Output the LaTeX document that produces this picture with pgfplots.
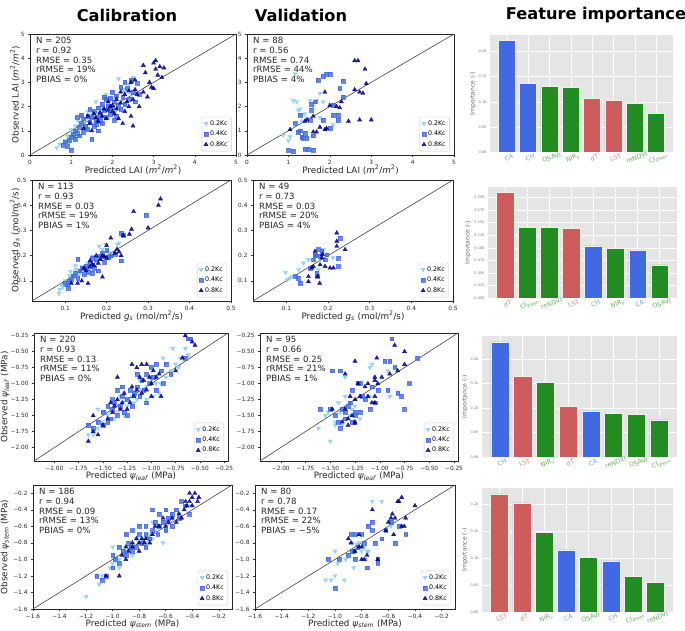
\documentclass[border=0pt]{standalone}
\usepackage{fontspec}
\setmainfont{DejaVu Sans}
\usepackage{pgfplots}
\pgfplotsset{compat=1.18}

\definecolor{cLight}{HTML}{87CEFA}
\definecolor{cMid}{HTML}{4169E1}
\definecolor{cDark}{HTML}{00008B}
\definecolor{bBlue}{HTML}{4169E1}
\definecolor{bGreen}{HTML}{228B22}
\definecolor{bRed}{HTML}{CD5C5C}
\colorlet{lBlue}{bBlue!70!white}
\colorlet{lGreen}{bGreen!70!white}
\colorlet{lRed}{bRed!75!white}
\newcommand{\B}[1]{\textcolor{lBlue}{#1}}
\newcommand{\G}[1]{\textcolor{lGreen}{#1}}
\newcommand{\R}[1]{\textcolor{lRed}{#1}}

\pgfplotsset{
  scat/.style={scale only axis, anchor=north west,
    tick align=outside, xtick pos=bottom, ytick pos=left,
    major tick length=2pt, tick style={black!80, line width=0.4pt},
    axis line style={black!85, line width=0.5pt},
    ticklabel style={font=\fontsize{5.8}{6.5}\selectfont, text=black!85},
    /pgf/number format/assume math mode=true,
    label style={font=\fontsize{8.8}{10}\selectfont, text=black!85},
    xlabel style={anchor=center}, ylabel style={anchor=center},
    legend style={at={(rel axis cs:0.98,0.03)}, anchor=south east,
      draw=black!20, rounded corners=1.5pt, fill=white, fill opacity=0.8, text opacity=1,
      font=\fontsize{6.3}{7}\selectfont, inner xsep=2pt, inner ysep=1.5pt, row sep=0.3pt},
    legend cell align=left},
  kA/.style={only marks, mark=triangle*, mark size=2.4pt,
    mark options={rotate=180, draw=cLight, fill=cLight, opacity=0.85}},
  kB/.style={only marks, mark=square*, mark size=1.9pt,
    mark options={draw=cMid, fill=cMid, opacity=0.8}},
  kC/.style={only marks, mark=triangle*, mark size=2.4pt,
    mark options={draw=cDark, fill=cDark, opacity=0.85}},
  oneone/.style={black!75, line width=0.6pt, forget plot},
  fimp/.style={scale only axis, anchor=north west,
    xmin=-0.79, xmax=7.79, ymin=0, xtick={0,...,7}, bar width=0.8,
    axis background/.style={fill=black!10},
    grid=major, major grid style={white, line width=0.5pt},
    axis line style={draw=none}, major tick length=0pt,
    yticklabel style={font=\fontsize{3.5}{4}\selectfont, text=black!55},
    xticklabel style={font=\fontsize{6.3}{7}\selectfont, rotate=20, anchor=north},
    ylabel={Importance (-)},
    ylabel style={font=\fontsize{6}{7}\selectfont, text=black!60, anchor=center}},
  fbar/.style={ybar, bar shift=0pt, draw=black!6, line width=0.5pt},
}
\newcommand{\stats}[1]{\node[anchor=north west, align=left, inner sep=0pt,
  font=\fontsize{8.6}{9.8}\selectfont, text=black!85] at (rel axis cs:0,1) [xshift=6pt, yshift=-3pt] {#1};}

\begin{document}
\begin{tikzpicture}[x=1pt,y=1pt]
\useasboundingbox (0,0) rectangle (685,631);

\node[font=\fontsize{16.2}{18}\selectfont\bfseries] at (127,616) {Calibration};
\node[font=\fontsize{16.2}{18}\selectfont\bfseries] at (301,616) {Validation};
\node[font=\fontsize{16.2}{18}\selectfont\bfseries] at (596,616) {Feature importance};

% ---------------- Row 1: LAI ----------------
\begin{axis}[scat, at={(30pt,597pt)}, width=206pt, height=121pt,
  xmin=0, xmax=5, ymin=0, ymax=5, xtick={0,...,5}, ytick={0,...,5},
  xlabel={Predicted LAI (\textit{m}\textsuperscript{2}/\textit{m}\textsuperscript{2})},
  ylabel={Observed LAI (\textit{m}\textsuperscript{2}/\textit{m}\textsuperscript{2})},
  xlabel style={at={([yshift=-15pt]axis description cs:0.5,0)}},
  ylabel style={at={([xshift=-15pt]axis description cs:0,0.5)}}]
\addplot[kA] coordinates {(0.65,0.3) (0.72,0.45) (0.85,0.6) (0.9,0.8) (0.95,0.7) (1.0,1.05) (1.05,0.9) (1.1,1.2) (1.15,1.0) (1.2,1.35) (1.25,1.6) (1.3,1.25) (1.35,1.5) (1.4,1.8) (1.45,1.4) (1.5,1.7) (1.55,1.3) (1.6,2.2) (1.62,1.55) (1.7,1.85) (1.75,2.0) (1.8,1.6) (1.85,2.5) (1.9,2.1) (1.95,1.9) (2.0,2.3) (2.05,1.75) (2.1,2.4) (2.15,3.15) (2.2,2.2) (2.3,2.6) (2.4,2.9) (2.5,3.2) (2.45,2.5) (1.15,1.45) (1.3,1.1) (1.65,1.75) (2.25,2.7) (0.95,0.5) (1.08,0.75)};
\addplot[kB] coordinates {(0.85,0.55) (0.9,0.35) (0.95,0.6) (1.0,0.75) (1.0,0.2) (1.05,0.85) (1.1,1.0) (1.1,0.65) (1.15,0.9) (1.2,1.15) (1.2,0.8) (1.25,1.3) (1.3,1.5) (1.3,0.95) (1.35,1.2) (1.4,1.6) (1.4,1.05) (1.45,1.35) (1.5,1.55) (1.5,0.65) (1.55,1.8) (1.55,1.2) (1.6,1.45) (1.65,1.95) (1.65,1.0) (1.7,1.6) (1.75,1.3) (1.75,2.1) (1.8,1.85) (1.85,1.55) (1.85,2.3) (1.9,2.0) (1.95,1.7) (2.0,2.6) (2.0,1.95) (2.05,2.2) (2.1,1.6) (2.1,2.45) (2.15,2.0) (2.2,2.8) (2.2,1.9) (2.25,2.4) (2.3,2.1) (2.35,2.75) (2.4,2.3) (2.45,3.1) (2.5,2.6) (2.55,2.2) (2.6,2.95) (2.65,2.5) (1.25,1.65) (1.45,1.9) (1.6,1.25) (1.8,2.4) (1.95,2.35) (2.3,3.0) (1.15,1.55) (0.8,0.4) (1.7,1.4) (2.05,1.45)};
\addplot[kC] coordinates {(1.3,1.1) (1.45,1.3) (1.5,1.0) (1.6,1.55) (1.65,1.4) (1.7,1.75) (1.75,1.6) (1.8,1.9) (1.85,1.5) (1.9,1.85) (1.95,2.0) (2.0,1.8) (2.0,2.05) (2.05,1.7) (2.1,2.3) (2.1,1.9) (2.15,1.5) (2.2,2.15) (2.25,1.3) (2.3,2.5) (2.3,1.8) (2.35,2.2) (2.4,2.65) (2.45,1.6) (2.5,2.3) (2.5,1.2) (2.55,2.7) (2.6,2.5) (2.65,2.0) (2.75,2.6) (2.75,3.7) (2.8,3.4) (2.85,2.4) (2.95,2.8) (3.0,3.8) (3.0,2.75) (3.05,3.9) (3.05,3.55) (3.1,3.3) (3.15,3.65) (3.2,3.2) (3.25,3.6) (2.9,3.0) (2.45,3.0) (2.55,3.1) (1.55,1.7) (1.9,2.2) (2.2,2.6) (1.4,1.6) (2.4,2.0)};
\addplot[oneone] coordinates {(0,0) (5,5)};
\legend{0.2Kc,0.4Kc,0.8Kc}
\stats{N = 205\\r = 0.92\\RMSE = 0.35\\rRMSE = 19\%\\PBIAS = 0\%}
\end{axis}

\begin{axis}[scat, at={(247pt,597pt)}, width=207pt, height=121pt,
  xmin=0, xmax=5, ymin=0, ymax=5, xtick={0,...,5}, ytick={0,...,5},
  xlabel={Predicted LAI (\textit{m}\textsuperscript{2}/\textit{m}\textsuperscript{2})},
  xlabel style={at={([yshift=-15pt]axis description cs:0.5,0)}}]
\addplot[kA] coordinates {(0.87,0.82) (1.0,0.6) (1.04,0.75) (1.12,2.25) (1.2,2.2) (1.24,1.85) (1.28,1.9) (1.32,1.65) (1.4,1.7) (1.52,2.25) (1.6,2.0) (1.68,2.25) (1.76,2.55) (1.84,2.2) (1.92,1.05) (2.08,1.25) (1.32,1.4) (1.16,3.35) (1.44,1.5) (1.76,1.55)};
\addplot[kB] coordinates {(1.0,0.2) (1.12,0.15) (1.16,1.3) (1.24,0.95) (1.28,1.0) (1.32,0.75) (1.36,0.7) (1.4,0.9) (1.44,0.7) (1.4,0.25) (1.48,0.25) (1.56,1.85) (1.56,2.1) (1.64,2.2) (1.6,0.8) (1.6,0.2) (1.72,3.1) (1.84,3.25) (1.92,3.35) (2.0,3.35) (2.0,1.1) (1.84,1.45) (2.08,2.05) (2.08,1.65) (2.2,1.45) (2.24,2.75) (2.32,3.05) (2.2,1.65) (1.28,1.65) (2.32,2.4) (1.52,1.45)};
\addplot[kC] coordinates {(1.04,1.05) (1.4,1.4) (1.6,0.95) (1.68,0.95) (1.76,1.15) (1.88,1.05) (1.92,1.1) (1.88,2.6) (2.0,2.05) (2.16,2.0) (2.28,2.2) (2.24,1.95) (2.45,1.4) (2.6,3.9) (2.68,3.9) (2.72,1.45) (2.6,2.7) (2.72,2.6) (2.85,3.55) (2.88,2.95) (2.8,2.55) (3.0,1.45) (1.6,1.6) (1.45,1.45)};
\addplot[oneone] coordinates {(0,0) (5,5)};
\legend{0.2Kc,0.4Kc,0.8Kc}
\stats{N = 88\\r = 0.56\\RMSE = 0.74\\rRMSE = 44\%\\PBIAS = 4\%}
\end{axis}

\begin{axis}[fimp, at={(490pt,596pt)}, width=183pt, height=117pt, ymax=0.233,
  ytick={0,0.05,0.1,0.15,0.2}, yticklabels={0.00,0.05,0.10,0.15,0.20},
  xticklabels={\B{CA},\B{CH},\G{OSAVI},\G{NIR\textsubscript{v}},\R{dT},\R{LST},\G{reNDVI},\G{CI\textsubscript{green}}},
  ylabel style={at={([xshift=-17pt]axis description cs:0,0.5)}}]
\addplot[fbar, fill=bBlue] coordinates {(0,0.222) (1,0.137)};
\addplot[fbar, fill=bGreen] coordinates {(2,0.130) (3,0.129) (6,0.098) (7,0.077)};
\addplot[fbar, fill=bRed] coordinates {(4,0.107) (5,0.103)};
\end{axis}

% ---------------- Row 2: gs ----------------
\begin{axis}[scat, at={(32pt,451pt)}, width=199pt, height=121pt,
  xmin=0.02, xmax=0.5, ymin=0.02, ymax=0.5, xtick={0.1,0.2,0.3,0.4,0.5}, ytick={0.1,0.2,0.3,0.4,0.5},
  xticklabel style={/pgf/number format/.cd, fixed, fixed zerofill, precision=1},
  yticklabel style={/pgf/number format/.cd, fixed, fixed zerofill, precision=1},
  xlabel={Predicted \textit{g}\textsubscript{\textit{s}} (mol/m\textsuperscript{2}/s)},
  ylabel={Observed \textit{g}\textsubscript{\textit{s}} (mol/m\textsuperscript{2}/s)},
  xlabel style={at={([yshift=-15pt]axis description cs:0.5,0)}},
  ylabel style={at={([xshift=-17pt]axis description cs:0,0.5)}}]
\addplot[kA] coordinates {(0.085,0.05) (0.087,0.065) (0.09,0.085) (0.095,0.075) (0.10,0.10) (0.11,0.12) (0.113,0.137) (0.12,0.11) (0.126,0.145) (0.134,0.125) (0.142,0.157) (0.15,0.145) (0.154,0.17) (0.16,0.15) (0.166,0.197) (0.174,0.177) (0.182,0.237) (0.19,0.19) (0.19,0.224) (0.198,0.245) (0.205,0.21) (0.208,0.19) (0.215,0.2) (0.226,0.244) (0.23,0.25) (0.125,0.16)};
\addplot[kB] coordinates {(0.10,0.09) (0.105,0.085) (0.107,0.07) (0.11,0.10) (0.115,0.105) (0.12,0.12) (0.125,0.13) (0.13,0.11) (0.135,0.14) (0.14,0.15) (0.145,0.125) (0.15,0.16) (0.155,0.135) (0.16,0.17) (0.165,0.19) (0.17,0.15) (0.175,0.185) (0.18,0.14) (0.185,0.2) (0.19,0.21) (0.195,0.175) (0.20,0.22) (0.205,0.195) (0.21,0.2) (0.13,0.185) (0.165,0.13) (0.235,0.29) (0.24,0.28) (0.235,0.18) (0.295,0.36) (0.22,0.205) (0.15,0.15)};
\addplot[kC] coordinates {(0.115,0.09) (0.13,0.09) (0.14,0.1) (0.15,0.14) (0.155,0.09) (0.16,0.155) (0.165,0.165) (0.17,0.16) (0.175,0.2) (0.18,0.17) (0.185,0.185) (0.19,0.2) (0.19,0.115) (0.195,0.195) (0.20,0.19) (0.21,0.27) (0.22,0.21) (0.225,0.225) (0.23,0.215) (0.235,0.2) (0.24,0.28) (0.255,0.285) (0.26,0.305) (0.265,0.375) (0.30,0.31) (0.325,0.4) (0.33,0.425) (0.16,0.18) (0.145,0.15) (0.2,0.24)};
\addplot[oneone] coordinates {(0.02,0.02) (0.5,0.5)};
\legend{0.2Kc,0.4Kc,0.8Kc}
\stats{N = 113\\r = 0.93\\RMSE = 0.03\\rRMSE = 19\%\\PBIAS = 1\%}
\end{axis}

\begin{axis}[scat, at={(253pt,451pt)}, width=200pt, height=121pt,
  xmin=0.02, xmax=0.5, ymin=0.02, ymax=0.5, xtick={0.1,0.2,0.3,0.4,0.5}, ytick={0.1,0.2,0.3,0.4,0.5},
  xticklabel style={/pgf/number format/.cd, fixed, fixed zerofill, precision=1},
  yticklabel style={/pgf/number format/.cd, fixed, fixed zerofill, precision=1},
  xlabel={Predicted \textit{g}\textsubscript{\textit{s}} (mol/m\textsuperscript{2}/s)},
  xlabel style={at={([yshift=-15pt]axis description cs:0.5,0)}}]
\addplot[kA] coordinates {(0.098,0.133) (0.102,0.104) (0.114,0.117) (0.141,0.171) (0.153,0.184) (0.177,0.144) (0.189,0.224) (0.212,0.191) (0.108,0.11) (0.13,0.144)};
\addplot[kB] coordinates {(0.122,0.117) (0.133,0.091) (0.129,0.111) (0.157,0.151) (0.165,0.184) (0.169,0.204) (0.173,0.131) (0.175,0.117) (0.181,0.197) (0.185,0.217) (0.193,0.184) (0.197,0.204) (0.225,0.157) (0.229,0.27) (0.225,0.191) (0.177,0.224) (0.17,0.2)};
\addplot[kC] coordinates {(0.153,0.097) (0.153,0.117) (0.161,0.151) (0.165,0.157) (0.169,0.217) (0.175,0.117) (0.181,0.164) (0.185,0.191) (0.193,0.157) (0.205,0.151) (0.213,0.151) (0.221,0.29) (0.221,0.257) (0.221,0.237) (0.241,0.224) (0.18,0.09) (0.187,0.205)};
\addplot[oneone] coordinates {(0.02,0.02) (0.5,0.5)};
\legend{0.2Kc,0.4Kc,0.8Kc}
\stats{N = 49\\r = 0.73\\RMSE = 0.03\\rRMSE = 20\%\\PBIAS = 4\%}
\end{axis}

\begin{axis}[fimp, at={(488pt,444pt)}, width=189pt, height=111pt, ymax=0.221,
  ytick={0,0.025,0.05,0.075,0.1,0.125,0.15,0.175,0.2},
  yticklabels={0.000,0.025,0.050,0.075,0.100,0.125,0.150,0.175,0.200},
  xticklabels={\R{dT},\G{CI\textsubscript{green}},\G{reNDVI},\R{LST},\B{CH},\G{NIR\textsubscript{v}},\B{CA},\G{OSAVI}},
  ylabel style={at={([xshift=-20pt]axis description cs:0,0.5)}}]
\addplot[fbar, fill=bRed] coordinates {(0,0.210) (3,0.139)};
\addplot[fbar, fill=bGreen] coordinates {(1,0.141) (2,0.140) (5,0.099) (7,0.066)};
\addplot[fbar, fill=bBlue] coordinates {(4,0.104) (6,0.096)};
\end{axis}

% ---------------- Row 3: psi leaf ----------------
\begin{axis}[scat, at={(34pt,298pt)}, width=194pt, height=128pt,
  xmin=-2.21, xmax=-0.21, ymin=-2.21, ymax=-0.21,
  xtick={-2,-1.75,-1.5,-1.25,-1,-0.75,-0.5,-0.25},
  xticklabels={−2.00,−1.75,−1.50,−1.25,−1.00,−0.75,−0.50,−0.25},
  ytick={-2,-1.75,-1.5,-1.25,-1,-0.75,-0.5,-0.25},
  yticklabels={−2.00,−1.75,−1.50,−1.25,−1.00,−0.75,−0.50,−0.25},
  xlabel={Predicted \textit{ψ}\textsubscript{\textit{leaf}} (MPa)},
  ylabel={Observed \textit{ψ}\textsubscript{\textit{leaf}} (MPa)},
  xlabel style={at={([yshift=-15pt]axis description cs:0.5,0)}},
  ylabel style={at={([xshift=-29pt]axis description cs:0,0.5)}}]
\addplot[kA] coordinates {(-1.65,-1.8) (-1.6,-1.8) (-1.55,-1.7) (-1.5,-1.6) (-1.45,-1.5) (-1.42,-1.4) (-1.38,-1.55) (-1.35,-1.45) (-1.3,-1.3) (-1.25,-1.35) (-1.2,-1.2) (-1.15,-1.25) (-1.1,-1.1) (-1.05,-1.05) (-1.0,-0.95) (-0.95,-1.0) (-0.92,-1.15) (-0.9,-1.0) (-0.85,-0.9) (-0.8,-0.8) (-0.75,-0.7) (-0.72,-0.75) (-0.7,-0.6) (-0.65,-0.45) (-0.62,-0.55) (-0.78,-0.45) (-1.48,-1.45) (-1.28,-1.5) (-1.18,-1.3) (-0.98,-1.2) (-1.55,-1.4) (-1.12,-0.95) (-0.88,-0.6) (-1.32,-1.2) (-1.05,-1.25)};
\addplot[kB] coordinates {(-1.65,-1.65) (-1.6,-1.7) (-1.55,-1.6) (-1.5,-1.45) (-1.5,-1.65) (-1.45,-1.35) (-1.42,-1.55) (-1.4,-1.4) (-1.38,-1.3) (-1.35,-1.5) (-1.32,-1.35) (-1.3,-1.2) (-1.28,-1.45) (-1.25,-1.25) (-1.22,-1.1) (-1.2,-1.35) (-1.18,-1.15) (-1.15,-1.05) (-1.12,-1.2) (-1.1,-0.95) (-1.08,-1.1) (-1.05,-0.85) (-1.02,-1.0) (-1.0,-0.75) (-0.98,-0.9) (-0.95,-1.1) (-0.9,-0.8) (-0.88,-1.0) (-0.85,-0.7) (-0.8,-0.85) (-0.62,-0.3) (-0.6,-0.3) (-0.65,-0.6) (-1.45,-1.6) (-1.35,-1.1) (-1.25,-1.5) (-1.05,-1.3) (-1.15,-0.85) (-0.95,-0.7) (-1.4,-1.25) (-1.3,-1.05)};
\addplot[kC] coordinates {(-1.65,-1.9) (-1.6,-1.75) (-1.55,-1.8) (-1.5,-1.65) (-1.45,-1.55) (-1.42,-1.3) (-1.4,-1.45) (-1.38,-1.35) (-1.35,-1.25) (-1.32,-1.4) (-1.3,-1.3) (-1.28,-1.15) (-1.25,-1.4) (-1.22,-1.3) (-1.2,-1.05) (-1.18,-1.2) (-1.15,-1.1) (-1.12,-0.9) (-1.1,-1.15) (-1.08,-0.95) (-1.05,-1.1) (-1.02,-0.9) (-1.0,-1.0) (-0.98,-0.8) (-0.95,-0.9) (-0.92,-0.85) (-1.1,-0.7) (-1.05,-0.7) (-1.2,-0.7) (-1.15,-0.75) (-0.9,-1.2) (-0.75,-0.8) (-0.68,-0.6) (-0.65,-0.25) (-0.58,-0.35) (-0.55,-0.4) (-1.6,-1.5) (-1.35,-0.9) (-1.0,-1.2)};
\addplot[oneone] coordinates {(-2.21,-2.21) (-0.21,-0.21)};
\legend{0.2Kc,0.4Kc,0.8Kc}
\stats{N = 220\\r = 0.93\\RMSE = 0.13\\rRMSE = 11\%\\PBIAS = 0\%}
\end{axis}

\begin{axis}[scat, at={(260pt,298pt)}, width=198pt, height=128pt,
  xmin=-2.21, xmax=-0.21, ymin=-2.21, ymax=-0.21,
  xtick={-2,-1.75,-1.5,-1.25,-1,-0.75,-0.5,-0.25},
  xticklabels={−2.00,−1.75,−1.50,−1.25,−1.00,−0.75,−0.50,−0.25},
  ytick={-2,-1.75,-1.5,-1.25,-1,-0.75,-0.5,-0.25},
  yticklabels={−2.00,−1.75,−1.50,−1.25,−1.00,−0.75,−0.50,−0.25},
  xlabel={Predicted \textit{ψ}\textsubscript{\textit{leaf}} (MPa)},
  xlabel style={at={([yshift=-15pt]axis description cs:0.5,0)}}]
\addplot[kA] coordinates {(-1.62,-1.7) (-1.5,-1.9) (-1.55,-1.5) (-1.45,-1.6) (-1.4,-1.45) (-1.38,-1.65) (-1.35,-1.2) (-1.3,-1.5) (-1.28,-1.4) (-1.35,-0.9) (-1.2,-1.55) (-1.25,-1.35) (-1.1,-0.75) (-1.08,-0.7) (-0.92,-0.8) (-0.9,-1.2) (-1.52,-1.45) (-1.42,-1.3) (-1.1,-1.2) (-1.45,-1.65)};
\addplot[kB] coordinates {(-1.6,-1.4) (-1.5,-1.4) (-1.48,-0.8) (-1.45,-1.5) (-1.42,-1.6) (-1.4,-1.7) (-1.38,-1.4) (-1.35,-1.55) (-1.35,-1.45) (-1.32,-1.35) (-1.3,-1.3) (-1.28,-1.1) (-1.28,-1.6) (-1.25,-1.5) (-1.25,-1.45) (-1.22,-1.0) (-1.2,-1.0) (-1.18,-1.2) (-1.15,-1.25) (-1.1,-1.4) (-1.08,-1.05) (-1.05,-1.3) (-1.02,-1.1) (-0.95,-0.65) (-0.92,-1.1) (-0.88,-0.3) (-0.85,-0.75) (-0.82,-1.15) (-0.78,-1.2) (-0.75,-1.4) (-0.7,-1.0) (-0.62,-0.6) (-1.4,-0.8) (-1.2,-1.45) (-0.9,-0.65)};
\addplot[kC] coordinates {(-1.48,-1.4) (-1.38,-1.6) (-1.35,-1.4) (-1.32,-1.55) (-1.32,-1.65) (-1.3,-1.2) (-1.28,-1.5) (-1.25,-1.6) (-1.25,-0.65) (-1.25,-1.25) (-1.22,-1.0) (-1.2,-1.2) (-1.15,-1.05) (-1.12,-1.2) (-1.08,-1.3) (-1.05,-1.3) (-1.05,-0.95) (-1.03,-0.6) (-1.05,-1.2) (-1.05,-0.9) (-0.98,-0.9) (-0.9,-0.85) (-0.85,-0.4) (-0.82,-0.8) (-0.75,-0.5) (-0.75,-0.7) (-1.35,-0.85) (-1.12,-1.0) (-1.25,-1.62) (-1.02,-1.0)};
\addplot[oneone] coordinates {(-2.21,-2.21) (-0.21,-0.21)};
\legend{0.2Kc,0.4Kc,0.8Kc}
\stats{N = 95\\r = 0.66\\RMSE = 0.25\\rRMSE = 21\%\\PBIAS = 1\%}
\end{axis}

\begin{axis}[fimp, at={(482pt,295pt)}, width=195pt, height=121pt, ymax=0.247,
  ytick={0,0.05,0.1,0.15,0.2}, yticklabels={0.00,0.05,0.10,0.15,0.20},
  xticklabels={\B{CH},\R{LST},\G{NIR\textsubscript{v}},\R{dT},\B{CA},\G{reNDVI},\G{OSAVI},\G{CI\textsubscript{green}}},
  ylabel style={at={([xshift=-17pt]axis description cs:0,0.5)}}]
\addplot[fbar, fill=bBlue] coordinates {(0,0.235) (4,0.094)};
\addplot[fbar, fill=bRed] coordinates {(1,0.164) (3,0.104)};
\addplot[fbar, fill=bGreen] coordinates {(2,0.152) (5,0.089) (6,0.087) (7,0.076)};
\end{axis}

% ---------------- Row 4: psi stem ----------------
\begin{axis}[scat, at={(33pt,146pt)}, width=199pt, height=124pt,
  xmin=-1.6, xmax=-0.1, ymin=-1.6, ymax=-0.1,
  xtick={-1.6,-1.4,-1.2,-1,-0.8,-0.6,-0.4,-0.2},
  xticklabels={−1.6,−1.4,−1.2,−1.0,−0.8,−0.6,−0.4,−0.2},
  ytick={-1.6,-1.4,-1.2,-1,-0.8,-0.6,-0.4,-0.2},
  yticklabels={−1.6,−1.4,−1.2,−1.0,−0.8,−0.6,−0.4,−0.2},
  xlabel={Predicted \textit{ψ}\textsubscript{\textit{stem}} (MPa)},
  ylabel={Observed \textit{ψ}\textsubscript{\textit{stem}} (MPa)},
  xlabel style={at={([yshift=-15pt]axis description cs:0.5,0)}},
  ylabel style={at={([xshift=-28pt]axis description cs:0,0.5)}}]
\addplot[kA] coordinates {(-1.2,-1.45) (-1.1,-1.3) (-1.08,-1.2) (-1.05,-1.2) (-1.02,-1.1) (-1.0,-1.05) (-0.98,-1.0) (-0.95,-1.0) (-0.92,-0.95) (-0.9,-0.9) (-0.88,-0.85) (-0.85,-0.85) (-0.82,-0.75) (-0.8,-0.8) (-0.78,-0.75) (-0.75,-0.8) (-0.72,-0.7) (-0.7,-0.75) (-0.68,-0.65) (-0.65,-0.6) (-0.62,-0.8) (-0.6,-0.65) (-0.58,-0.55) (-0.55,-0.5) (-0.5,-0.45) (-0.45,-0.35) (-0.42,-0.35) (-0.9,-0.7) (-1.0,-0.85) (-0.7,-0.55) (-0.95,-1.1) (-0.85,-0.95)};
\addplot[kB] coordinates {(-1.12,-1.2) (-1.05,-1.2) (-1.0,-1.1) (-0.98,-1.0) (-0.95,-1.05) (-0.95,-0.85) (-0.92,-0.9) (-0.9,-0.95) (-0.9,-0.7) (-0.88,-0.8) (-0.86,-0.85) (-0.85,-0.9) (-0.82,-0.85) (-0.8,-0.7) (-0.78,-0.8) (-0.75,-0.7) (-0.75,-0.6) (-0.72,-0.75) (-0.7,-0.65) (-0.68,-0.55) (-0.66,-0.7) (-0.65,-0.6) (-0.62,-0.55) (-0.6,-0.65) (-0.58,-0.5) (-0.55,-0.45) (-0.52,-0.4) (-0.5,-0.5) (-0.48,-0.3) (-0.45,-0.35) (-0.42,-0.45) (-0.7,-0.4) (-0.65,-0.45) (-0.85,-0.65) (-0.8,-0.6) (-1.08,-1.25) (-1.0,-0.95) (-0.6,-0.4) (-0.55,-0.6) (-0.75,-0.85)};
\addplot[kC] coordinates {(-1.05,-1.2) (-0.95,-1.2) (-0.93,-0.95) (-0.9,-0.85) (-0.88,-0.9) (-0.85,-0.8) (-0.82,-0.75) (-0.8,-0.8) (-0.78,-0.75) (-0.76,-0.8) (-0.75,-0.75) (-0.72,-0.8) (-0.7,-0.7) (-0.68,-0.6) (-0.65,-0.6) (-0.6,-0.6) (-0.58,-0.55) (-0.55,-0.5) (-0.52,-0.55) (-0.5,-0.45) (-0.48,-0.5) (-0.46,-0.4) (-0.44,-0.35) (-0.42,-0.3) (-0.4,-0.25) (-0.38,-0.2) (-0.42,-0.2) (-0.36,-0.3) (-0.35,-0.25) (-0.4,-0.35) (-0.45,-0.3) (-0.62,-0.5) (-0.85,-0.85) (-0.8,-0.9) (-0.9,-1.0)};
\addplot[oneone] coordinates {(-1.6,-1.6) (-0.1,-0.1)};
\legend{0.2Kc,0.4Kc,0.8Kc}
\stats{N = 186\\r = 0.94\\RMSE = 0.09\\rRMSE = 13\%\\PBIAS = 0\%}
\end{axis}

\begin{axis}[scat, at={(255pt,146pt)}, width=200pt, height=124pt,
  xmin=-1.6, xmax=-0.1, ymin=-1.6, ymax=-0.1,
  xtick={-1.6,-1.4,-1.2,-1,-0.8,-0.6,-0.4,-0.2},
  xticklabels={−1.6,−1.4,−1.2,−1.0,−0.8,−0.6,−0.4,−0.2},
  ytick={-1.6,-1.4,-1.2,-1,-0.8,-0.6,-0.4,-0.2},
  yticklabels={−1.6,−1.4,−1.2,−1.0,−0.8,−0.6,−0.4,−0.2},
  xlabel={Predicted \textit{ψ}\textsubscript{\textit{stem}} (MPa)},
  xlabel style={at={([yshift=-15pt]axis description cs:0.5,0)}}]
\addplot[kA] coordinates {(-1.07,-1.25) (-1.03,-1.25) (-1.0,-1.2) (-0.98,-1.05) (-1.0,-0.9) (-0.93,-1.25) (-0.92,-1.0) (-0.87,-0.8) (-0.86,-1.1) (-0.82,-0.8) (-0.8,-0.9) (-0.78,-0.85) (-0.77,-1.0) (-0.76,-0.9) (-0.72,-0.3) (-0.65,-0.3) (-0.58,-0.6) (-0.75,-0.9) (-0.84,-0.82)};
\addplot[kB] coordinates {(-1.05,-1.0) (-1.0,-1.35) (-0.97,-1.0) (-0.9,-0.95) (-0.88,-0.7) (-0.87,-0.9) (-0.86,-0.9) (-0.85,-1.0) (-0.83,-0.85) (-0.8,-0.7) (-0.78,-0.8) (-0.76,-1.1) (-0.75,-0.6) (-0.72,-0.55) (-0.7,-0.8) (-0.68,-1.05) (-0.68,-1.0) (-0.65,-0.75) (-0.62,-0.65) (-0.58,-0.55) (-0.55,-0.8) (-0.52,-0.6) (-0.47,-0.7) (-0.85,-0.7) (-0.72,-0.65)};
\addplot[kC] coordinates {(-0.9,-0.75) (-0.88,-0.8) (-0.85,-0.9) (-0.82,-0.85) (-0.8,-0.85) (-0.8,-1.0) (-0.78,-1.0) (-0.76,-0.95) (-0.72,-0.4) (-0.68,-1.0) (-0.62,-0.65) (-0.6,-0.55) (-0.58,-0.5) (-0.57,-0.45) (-0.56,-0.7) (-0.53,-0.3) (-0.52,-0.3) (-0.5,-0.25) (-0.5,-0.6) (-0.48,-0.6) (-0.47,-0.5) (-0.4,-0.35) (-0.55,-0.5) (-0.82,-0.7)};
\addplot[oneone] coordinates {(-1.6,-1.6) (-0.1,-0.1)};
\legend{0.2Kc,0.4Kc,0.8Kc}
\stats{N = 80\\r = 0.78\\RMSE = 0.17\\rRMSE = 22\%\\PBIAS = −5\%}
\end{axis}

\begin{axis}[fimp, at={(482pt,143pt)}, width=191pt, height=124pt, ymax=0.23,
  ytick={0,0.05,0.1,0.15,0.2}, yticklabels={0.00,0.05,0.10,0.15,0.20},
  xticklabels={\R{LST},\R{dT},\G{NIR\textsubscript{v}},\B{CA},\G{OSAVI},\B{CH},\G{CI\textsubscript{green}},\G{reNDVI}},
  ylabel style={at={([xshift=-17pt]axis description cs:0,0.5)}}]
\addplot[fbar, fill=bRed] coordinates {(0,0.219) (1,0.2025)};
\addplot[fbar, fill=bGreen] coordinates {(2,0.1475) (4,0.101) (6,0.066) (7,0.055)};
\addplot[fbar, fill=bBlue] coordinates {(3,0.115) (5,0.095)};
\end{axis}
\end{tikzpicture}
\end{document}
